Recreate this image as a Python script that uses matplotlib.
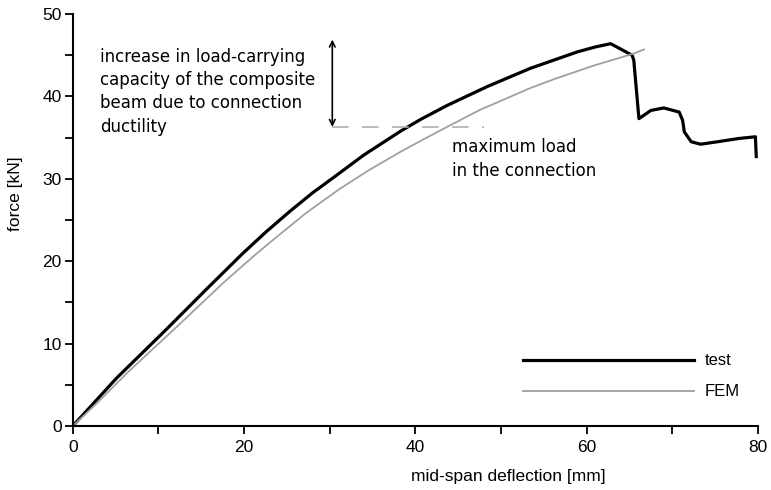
import matplotlib
matplotlib.use("Agg")
import matplotlib.pyplot as plt

# Load-deflection data (mid-span deflection in mm, force in kN)
test_x = [0, 5.1, 10.8, 15.7, 19.8, 22.5, 25.4, 28.0, 30.5, 34.0, 38.3, 40.6,
          43.7, 48.4, 53.4, 58.9, 61.0, 62.8, 65.3, 65.5, 66.1, 67.5, 69.0,
          70.8, 71.2, 71.4, 72.2, 73.3, 75.3, 77.8, 79.7, 79.8]
test_y = [0, 5.8, 11.6, 16.7, 20.9, 23.5, 26.1, 28.3, 30.2, 32.9, 35.8, 37.2,
          38.9, 41.2, 43.4, 45.4, 46.0, 46.4, 45.0, 44.4, 37.3, 38.3, 38.6,
          38.1, 37.1, 35.7, 34.5, 34.2, 34.5, 34.9, 35.1, 32.7]

fem_x = [0, 2.8, 6.5, 12.1, 17.6, 21.1, 23.4, 27.3, 31.2, 34.5, 38.3, 40.6,
         43.7, 47.6, 53.4, 56.2, 61.0, 65.5, 66.7]
fem_y = [0, 2.75, 6.6, 12.0, 17.4, 20.6, 22.6, 25.9, 28.8, 31.0, 33.3, 34.6,
         36.3, 38.4, 41.0, 42.1, 43.8, 45.2, 45.7]

x_ticks = [0, 20, 40, 60, 80]
y_ticks = [0, 10, 20, 30, 40, 50]

# Connection capacity level and the gain shown by the double arrow
conn_load = 36.3
gain_top = 46.9
arrow_x = 30.3
conn_line_end = 48.0

tick_font = "Liberation Sans"
note_font = "DejaVu Sans"

fig = plt.figure(figsize=(7.71, 4.90), dpi=100)
ax = fig.add_axes([0.0944, 0.1306, 0.8887, 0.8408])

ax.plot(test_x, test_y, color="black", lw=2.3, solid_joinstyle="round")
ax.plot(fem_x, fem_y, color="#a0a0a0", lw=1.3)

# Legend drawn as short lines with labels
ax.plot([52.6, 72.5], [8.0, 8.0], color="black", lw=2.3)
ax.plot([52.6, 72.5], [4.2, 4.2], color="#a0a0a0", lw=1.3)
ax.text(73.8, 8.0, "test", fontsize=12, family=tick_font, va="center", ha="left")
ax.text(73.8, 4.2, "FEM", fontsize=12, family=tick_font, va="center", ha="left")

# Maximum connection load and the capacity increase
ax.plot([arrow_x, conn_line_end], [conn_load, conn_load], color="#b0b0b0",
        lw=1.2, dashes=(10, 8))
ax.annotate("", xy=(arrow_x, gain_top), xytext=(arrow_x, conn_load),
            arrowprops=dict(arrowstyle="<->", color="black", lw=1.2,
                            shrinkA=0, shrinkB=0, mutation_scale=10))
ax.text(3.2, 45.9, "increase in load-carrying\ncapacity of the composite\n"
        "beam due to connection\nductility", fontsize=12, family=note_font,
        va="top", ha="left", linespacing=1.38)
ax.text(44.3, 34.9, "maximum load\nin the connection", fontsize=12,
        family=note_font, va="top", ha="left", linespacing=1.38)

ax.set_xlim(0, 80)
ax.set_ylim(0, 50)
ax.set_xticks(x_ticks)
ax.set_yticks(y_ticks)
ax.set_xticks([10, 30, 50, 70], minor=True)
ax.set_yticks([5, 15, 25, 35, 45], minor=True)
ax.tick_params(which="both", direction="out", length=6, width=1.3, color="black")
ax.tick_params(axis="y", which="both", pad=2)
ax.tick_params(axis="x", which="both", pad=4)
for lab in ax.get_xticklabels() + ax.get_yticklabels():
    lab.set_fontfamily(tick_font)
    lab.set_fontsize(12.5)

for side in ("top", "right"):
    ax.spines[side].set_visible(False)
for side in ("left", "bottom"):
    ax.spines[side].set_linewidth(1.5)

ax.set_xlabel("mid-span deflection [mm]", fontsize=12.5, family=tick_font)
ax.set_ylabel("force [kN]", fontsize=12.5, family=tick_font)
ax.xaxis.set_label_coords(0.635, -0.105)
ax.yaxis.set_label_coords(-0.073, 0.563)

fig.savefig("out.png", dpi=100)
